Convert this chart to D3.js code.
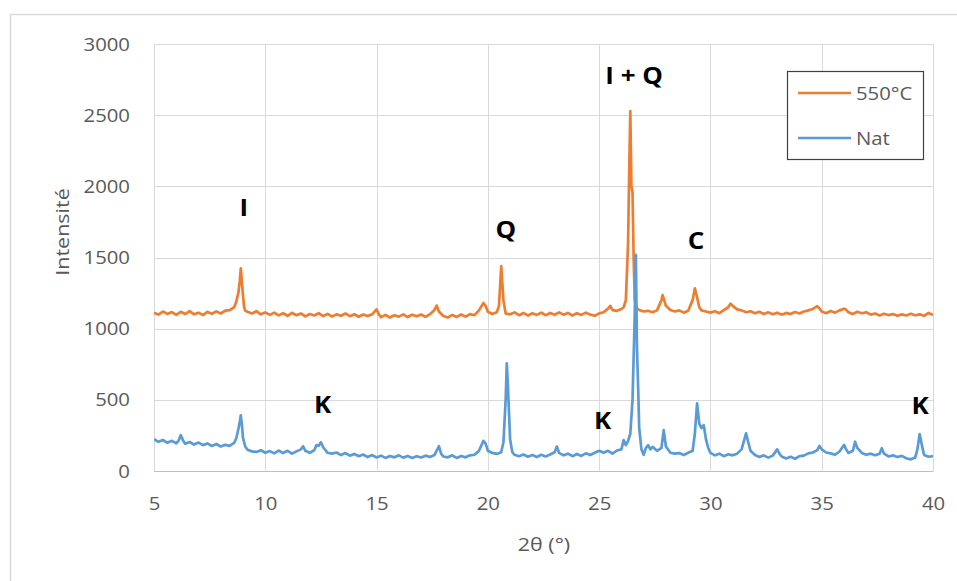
<!DOCTYPE html>
<html><head><meta charset="utf-8">
<script src="https://cdn.jsdelivr.net/npm/d3@7"></script>
<style>body{margin:0;background:#fff}svg{display:block}</style>
</head><body>
<svg id="c" width="957" height="581"></svg>
<script>
// ---- data ----
const xTicks = [5, 10, 15, 20, 25, 30, 35, 40];
const yTicks = [0, 500, 1000, 1500, 2000, 2500, 3000];
const seriesNames = ["550°C", "Nat"];
const series550 = [
[5.0,1112],[5.2,1098],[5.4,1120],[5.6,1103],[5.8,1116],[6.0,1096],[6.2,1118],[6.4,1102],[6.6,1123],[6.8,1100],
[7.0,1112],[7.2,1095],[7.4,1117],[7.6,1104],[7.8,1121],[8.0,1106],[8.2,1126],[8.4,1130],[8.6,1150],[8.7,1190],
[8.8,1260],[8.85,1330],[8.9,1424],[8.95,1330],[9.0,1230],[9.05,1150],[9.1,1125],[9.2,1118],[9.4,1106],[9.6,1122],
[9.8,1100],[10.0,1114],[10.2,1096],[10.4,1112],[10.6,1093],[10.8,1108],[11.0,1090],[11.2,1110],[11.4,1094],[11.6,1106],
[11.8,1086],[12.0,1102],[12.2,1092],[12.4,1108],[12.6,1088],[12.8,1103],[13.0,1085],[13.2,1100],[13.4,1090],[13.6,1106],
[13.8,1087],[14.0,1101],[14.2,1083],[14.4,1099],[14.6,1088],[14.8,1100],[15.0,1135],[15.1,1100],[15.2,1080],[15.4,1096],
[15.6,1078],[15.8,1094],[16.0,1084],[16.2,1100],[16.4,1081],[16.6,1097],[16.8,1086],[17.0,1099],[17.2,1082],[17.4,1101],
[17.6,1130],[17.7,1162],[17.8,1120],[18.0,1088],[18.2,1078],[18.4,1096],[18.6,1082],[18.8,1099],[19.0,1084],[19.2,1102],
[19.4,1094],[19.6,1128],[19.8,1180],[19.9,1160],[20.0,1118],[20.2,1102],[20.4,1114],[20.5,1160],[20.6,1440],[20.7,1200],
[20.8,1106],[21.0,1100],[21.2,1114],[21.4,1094],[21.6,1110],[21.8,1092],[22.0,1108],[22.2,1096],[22.4,1112],[22.6,1094],
[22.8,1110],[23.0,1097],[23.2,1114],[23.4,1098],[23.6,1110],[23.8,1092],[24.0,1108],[24.2,1096],[24.4,1112],[24.6,1098],
[24.8,1090],[25.0,1107],[25.2,1115],[25.4,1140],[25.5,1160],[25.6,1130],[25.8,1125],[26.0,1138],[26.1,1150],[26.2,1200],
[26.3,1600],[26.35,2100],[26.4,2530],[26.45,2000],[26.5,1960],[26.55,1500],[26.6,1200],[26.7,1140],[26.8,1130],[27.0,1120],
[27.2,1125],[27.4,1115],[27.6,1128],[27.8,1200],[27.85,1236],[27.9,1210],[28.0,1160],[28.2,1130],[28.4,1120],[28.6,1128],
[28.8,1112],[29.0,1125],[29.2,1200],[29.3,1283],[29.4,1220],[29.5,1150],[29.6,1128],[29.8,1120],[30.0,1112],[30.2,1122],
[30.4,1108],[30.6,1130],[30.8,1150],[30.9,1175],[31.0,1160],[31.2,1135],[31.4,1128],[31.6,1115],[31.8,1122],[32.0,1108],
[32.2,1118],[32.4,1102],[32.6,1114],[32.8,1100],[33.0,1112],[33.2,1098],[33.4,1110],[33.6,1102],[33.8,1116],[34.0,1106],
[34.2,1120],[34.4,1128],[34.6,1138],[34.8,1158],[34.9,1140],[35.0,1120],[35.2,1108],[35.4,1124],[35.6,1112],[35.8,1128],
[36.0,1140],[36.1,1132],[36.2,1115],[36.4,1102],[36.6,1118],[36.8,1108],[37.0,1115],[37.2,1098],[37.4,1106],[37.6,1092],
[37.8,1104],[38.0,1095],[38.2,1102],[38.4,1090],[38.6,1100],[38.8,1092],[39.0,1104],[39.2,1094],[39.4,1100],[39.6,1090],
[39.8,1110],[40.0,1096]
];
const seriesNat = [
[5.0,221],[5.2,203],[5.4,216],[5.6,196],[5.8,210],[6.0,193],[6.1,210],[6.2,250],[6.3,215],[6.4,190],
[6.6,202],[6.8,184],[7.0,198],[7.2,180],[7.4,192],[7.6,174],[7.8,188],[8.0,170],[8.2,182],[8.4,175],
[8.6,195],[8.7,230],[8.8,300],[8.85,340],[8.9,390],[8.95,320],[9.0,230],[9.1,170],[9.2,148],[9.4,136],
[9.6,132],[9.8,144],[10.0,126],[10.2,138],[10.4,122],[10.6,142],[10.8,124],[11.0,140],[11.2,120],[11.4,136],
[11.6,150],[11.7,172],[11.8,140],[12.0,126],[12.2,144],[12.3,180],[12.4,175],[12.5,200],[12.6,165],[12.8,126],
[13.0,120],[13.2,128],[13.4,110],[13.6,124],[13.8,106],[14.0,118],[14.2,102],[14.4,114],[14.6,96],[14.8,110],
[15.0,93],[15.2,106],[15.4,90],[15.6,104],[15.8,94],[16.0,108],[16.2,92],[16.4,104],[16.6,90],[16.8,102],
[17.0,93],[17.2,106],[17.4,96],[17.6,110],[17.8,172],[17.9,120],[18.0,100],[18.2,94],[18.4,108],[18.6,90],
[18.8,104],[19.0,94],[19.2,108],[19.4,112],[19.6,140],[19.8,210],[19.9,190],[20.0,140],[20.2,125],[20.4,118],
[20.6,130],[20.7,200],[20.8,500],[20.85,756],[20.9,600],[21.0,220],[21.1,130],[21.2,112],[21.4,102],[21.6,114],
[21.8,98],[22.0,110],[22.2,96],[22.4,112],[22.6,100],[22.8,114],[23.0,130],[23.1,170],[23.2,125],[23.4,108],
[23.6,120],[23.8,102],[24.0,118],[24.2,104],[24.4,122],[24.6,110],[24.8,126],[25.0,140],[25.2,126],[25.4,140],
[25.6,120],[25.8,142],[26.0,150],[26.1,215],[26.2,180],[26.3,210],[26.4,260],[26.5,500],[26.6,1100],[26.65,1518],
[26.7,860],[26.75,600],[26.8,300],[26.9,150],[27.0,112],[27.1,160],[27.2,180],[27.3,150],[27.4,168],[27.6,140],
[27.8,160],[27.9,286],[28.0,170],[28.2,126],[28.4,120],[28.6,124],[28.8,110],[29.0,126],[29.2,140],[29.3,260],
[29.4,474],[29.5,330],[29.6,300],[29.7,321],[29.8,220],[29.9,160],[30.0,125],[30.2,108],[30.4,120],[30.6,102],
[30.8,116],[31.0,108],[31.2,120],[31.4,150],[31.6,263],[31.7,200],[31.8,140],[32.0,110],[32.2,96],[32.4,108],
[32.6,92],[32.8,106],[33.0,150],[33.1,120],[33.2,100],[33.4,86],[33.6,98],[33.8,84],[34.0,102],[34.2,106],
[34.4,122],[34.6,128],[34.8,145],[34.9,174],[35.0,150],[35.2,128],[35.4,122],[35.6,112],[35.8,135],[36.0,181],
[36.1,150],[36.2,125],[36.4,140],[36.5,204],[36.6,160],[36.8,125],[37.0,112],[37.2,120],[37.4,108],[37.6,120],
[37.7,158],[37.8,120],[38.0,100],[38.2,108],[38.4,96],[38.6,104],[38.8,88],[39.0,80],[39.2,92],[39.3,150],
[39.4,258],[39.5,180],[39.6,110],[39.8,98],[40.0,103]
];
const peakLabels = [
  {text:"I", x:9.04, y:1790},
  {text:"Q", x:20.81, y:1640},
  {text:"I + Q", x:26.57, y:2720},
  {text:"C", x:29.35, y:1560},
  {text:"K", x:12.58, y:405},
  {text:"K", x:25.16, y:295},
  {text:"K", x:39.42, y:400}
];

// ---- layout ----
const svg = d3.select("#c");
const L = 154, R = 933, T = 44.3, B = 470.7;
const SX = 1.13;
const x = d3.scaleLinear().domain([5, 40]).range([L, R]);
const y = d3.scaleLinear().domain([0, 3000]).range([B, T]);
const colors = ["#ED7D31", "#5B9BD5"];
const font = "'Open Sans', sans-serif";

// outer border
svg.append("rect").attr("x", 10.5).attr("y", 14.5).attr("width", 1000).attr("height", 1000)
  .attr("fill", "none").attr("stroke", "#d9d9d9").attr("stroke-width", 1.5);

function txt(g, s, px, py, size, anchor, opts = {}) {
  return g.append("text")
    .attr("transform", `translate(${px},${py}) ${opts.rot ? "rotate(" + opts.rot + ")" : ""} scale(${SX},1)`)
    .attr("text-anchor", anchor)
    .attr("font-family", font).attr("font-size", size)
    .attr("font-weight", opts.bold ? "bold" : "normal")
    .attr("fill", opts.fill || "#595959").text(s);
}

// gridlines
const grid = svg.append("g");
grid.selectAll(".hg").data(yTicks.filter(d => d > 0)).join("line")
  .attr("x1", L).attr("x2", R).attr("y1", d => Math.round(y(d)) + 0.5).attr("y2", d => Math.round(y(d)) + 0.5)
  .attr("stroke", "#d9d9d9").attr("stroke-width", 1);
grid.selectAll(".vg").data(xTicks).join("line")
  .attr("y1", T).attr("y2", B).attr("x1", d => Math.round(x(d)) + 0.5).attr("x2", d => Math.round(x(d)) + 0.5)
  .attr("stroke", "#d9d9d9").attr("stroke-width", 1);
// bottom axis line
svg.append("line").attr("x1", L).attr("x2", R + 0.5).attr("y1", Math.round(B) + 0.5).attr("y2", Math.round(B) + 0.5)
  .attr("stroke", "#bfbfbf").attr("stroke-width", 1);

// tick labels via d3 axes (text only)
const xAxis = svg.append("g").attr("transform", `translate(0,${B})`)
  .call(d3.axisBottom(x).tickValues(xTicks).tickFormat(d3.format("d")).tickSize(0).tickPadding(0));
xAxis.select(".domain").remove();
xAxis.selectAll("text").attr("font-family", font).attr("font-size", 18).attr("fill", "#595959")
  .attr("dy", 0).attr("y", 0).attr("x", 0)
  .attr("transform", `translate(0,39) scale(${SX},1)`);

const yAxis = svg.append("g").attr("transform", `translate(${L},0)`)
  .call(d3.axisLeft(y).tickValues(yTicks).tickFormat(d3.format("d")).tickSize(0).tickPadding(0));
yAxis.select(".domain").remove();
yAxis.selectAll("text").attr("font-family", font).attr("font-size", 18).attr("fill", "#595959")
  .attr("dy", "0.35em").attr("x", 0).attr("text-anchor", "end")
  .attr("transform", `translate(-24,0) scale(${SX},1)`);

// axis titles
txt(svg, "Intensité", 69, 232, 19, "middle", {rot: -90});
txt(svg, "2θ (°)", 544, 551, 19, "middle");

// series
svg.append("clipPath").attr("id", "pa").append("rect")
  .attr("x", L).attr("y", T - 5).attr("width", R - L).attr("height", B - T + 5);
const line = d3.line().x(d => x(d[0])).y(d => y(d[1]));
const plot = svg.append("g").attr("clip-path", "url(#pa)");
[series550, seriesNat].forEach((s, i) => {
  plot.append("path").datum(s).attr("d", line).attr("fill", "none")
    .attr("stroke", colors[i]).attr("stroke-width", 2.7).attr("stroke-linejoin", "round");
});

// peak labels
peakLabels.forEach(p => txt(svg, p.text, x(p.x), y(p.y), 23, "middle", {bold: true, fill: "#000"}));

// legend
const lg = svg.append("g");
lg.append("rect").attr("x", 787.5).attr("y", 71.5).attr("width", 136).attr("height", 88)
  .attr("fill", "#fff").attr("stroke", "#404040").attr("stroke-width", 1.2);
seriesNames.forEach((n, i) => {
  const ly = 93 + i * 45;
  lg.append("line").attr("x1", 798).attr("x2", 851).attr("y1", ly).attr("y2", ly)
    .attr("stroke", colors[i]).attr("stroke-width", 2.4);
  txt(lg, n, 856, ly + 6.5, 18, "start");
});
</script>
</body></html>
